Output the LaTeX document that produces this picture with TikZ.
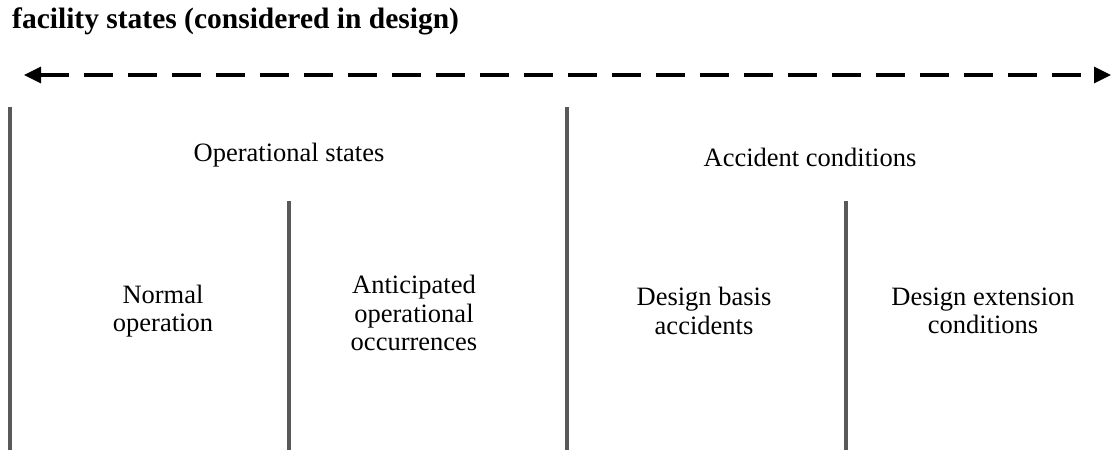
\documentclass[tikz,border=0pt]{standalone}
\usepackage{fontspec}
\setmainfont{Liberation Serif}
\usetikzlibrary{arrows.meta}
\begin{document}
\begin{tikzpicture}[x=1pt,y=-1pt,
  divider/.style={draw=black!65,line width=3.2pt},
  label/.style={align=center,font=\fontsize{26.5}{28.5}\selectfont,inner sep=0pt},
  span/.style={line width=3.2pt,dash pattern=on 29pt off 15pt,{Triangle[length=17pt,width=16pt]}-{Triangle[length=17pt,width=16pt]}}]
\useasboundingbox (0,0) rectangle (1115,450);
\node[anchor=base west,inner sep=0pt,font=\fontsize{29.5}{32}\selectfont\bfseries] (title) at (12,28) {facility states (considered in design)};
\coordinate (aL) at (24,75);
\coordinate (aR) at (1111,75);
\draw[span] (aL) -- (aR);
\coordinate (v1t) at (10,107); \coordinate (v1b) at (10,450);
\coordinate (v2t) at (289,201); \coordinate (v2b) at (289,450);
\coordinate (v3t) at (567,107); \coordinate (v3b) at (567,450);
\coordinate (v4t) at (846,201); \coordinate (v4b) at (846,450);
\draw[divider] (v1t) -- (v1b);
\draw[divider] (v2t) -- (v2b);
\draw[divider] (v3t) -- (v3b);
\draw[divider] (v4t) -- (v4b);
\node[label] (ops) at (289,155) {Operational states};
\node[label] (acc) at (810,157) {Accident conditions};
\node[label] (norm) at (163,311) {Normal\\operation};
\node[label] (aoo) at (414,313) {Anticipated\\operational\\occurrences};
\node[label] (dba) at (704,311) {Design basis\\accidents};
\node[label] (dec) at (983,311) {Design extension\\conditions};
\end{tikzpicture}
\end{document}
